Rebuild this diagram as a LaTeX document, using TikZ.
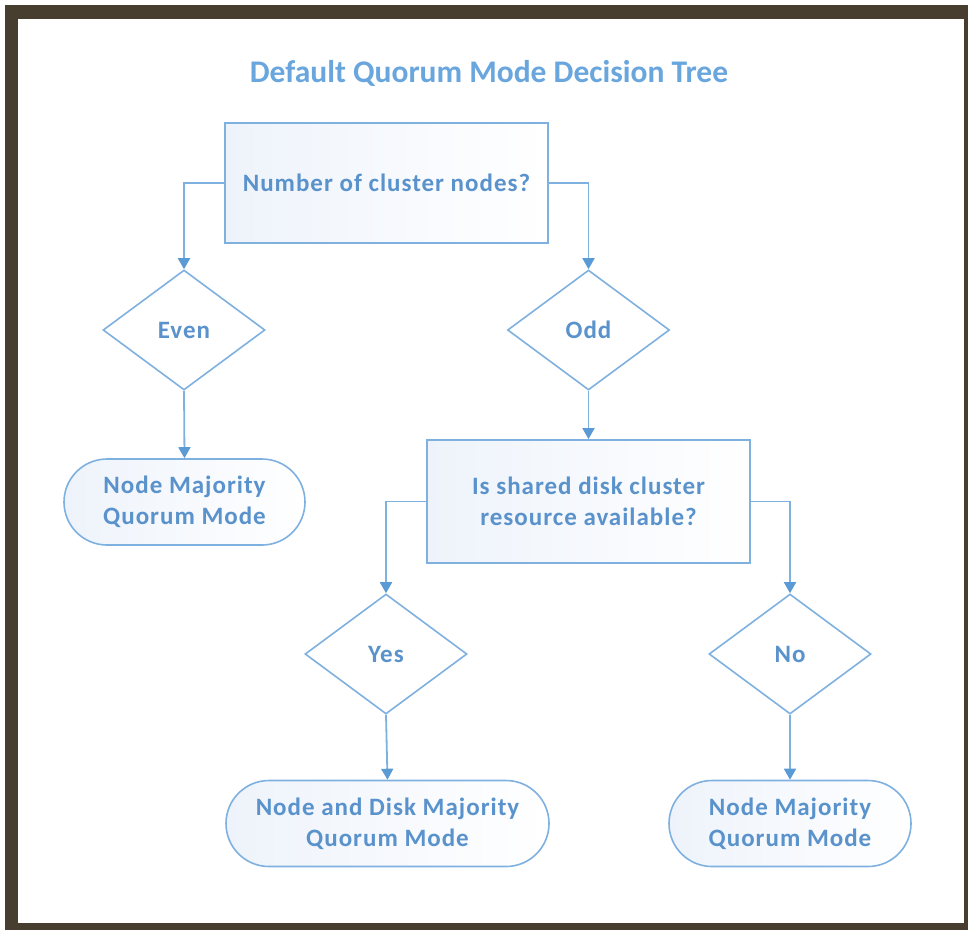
\documentclass[tikz,border=0pt]{standalone}
\usepackage{fontspec}
\setmainfont{Carlito}
\usetikzlibrary{shapes.geometric,shapes.misc,arrows.meta}
\definecolor{framecol}{HTML}{483E30}
\definecolor{linecol}{HTML}{7FB1E0}
\definecolor{tipcol}{HTML}{5B9BD5}
\definecolor{textcol}{HTML}{5A92CC}
\definecolor{titlecol}{HTML}{6AA6DE}
\definecolor{fillcol}{HTML}{EEF3FB}
\tikzset{
  every node/.style={font=\bfseries\fontsize{25}{31}\selectfont, text=textcol, align=center},
  boxnode/.style={draw=linecol, line width=1.8pt, rectangle, left color=fillcol, right color=white, inner sep=0pt},
  decnode/.style={draw=linecol, line width=1.6pt, diamond, fill=white, inner sep=0pt, minimum width=162pt, minimum height=120pt},
  termnode/.style={draw=linecol, line width=1.6pt, rounded rectangle, left color=fillcol, right color=white, inner sep=0pt, minimum height=86pt},
  conn/.style={draw=linecol, line width=1.8pt, -{Triangle[width=12pt,length=11pt,fill=tipcol,color=tipcol]}},
}
\begin{document}
\begin{tikzpicture}[x=1pt,y=-1pt]
\useasboundingbox (0,0) rectangle (968,930);
\fill[framecol] (5,5) rectangle (968,930);
\fill[white] (18,18.5) rectangle (964,923);
\node[font=\bfseries\fontsize{31.5}{36}\selectfont, text=titlecol] (title) at (489,73) {Default Quorum Mode Decision Tree};
\node[boxnode, minimum width=323pt, minimum height=120pt] (top) at (386.5,183) {\addfontfeature{LetterSpace=4}Number of cluster nodes?};
\node[decnode] (even) at (184,330) {\addfontfeature{LetterSpace=4}Even};
\node[decnode] (odd) at (588.5,330) {\addfontfeature{LetterSpace=4}Odd};
\node[termnode, minimum width=241pt] (nm1) at (184.5,502) {\addfontfeature{LetterSpace=4}Node Majority\\\addfontfeature{LetterSpace=4}Quorum Mode};
\node[boxnode, minimum width=323pt, minimum height=123pt] (disk) at (588.5,501.5) {\addfontfeature{LetterSpace=4}Is shared disk cluster\\\addfontfeature{LetterSpace=4}resource available?};
\node[decnode] (yes) at (386,654) {\addfontfeature{LetterSpace=4}Yes};
\node[decnode] (no) at (790,654) {\addfontfeature{LetterSpace=4}No};
\node[termnode, minimum width=323pt] (ndm) at (387.5,823.5) {\addfontfeature{LetterSpace=4}Node and Disk Majority\\\addfontfeature{LetterSpace=4}Quorum Mode};
\node[termnode, minimum width=242pt] (nm2) at (790,823.5) {\addfontfeature{LetterSpace=4}Node Majority\\\addfontfeature{LetterSpace=4}Quorum Mode};
\draw[conn] (top.west) -| (even.north);
\draw[conn] (top.east) -| (odd.north);
\draw[conn] (even.south) -- (nm1.north);
\draw[conn] (odd.south) -- (disk.north);
\draw[conn] (disk.west) -| (yes.north);
\draw[conn] (disk.east) -| (no.north);
\draw[conn] (yes.south) -- (ndm.north);
\draw[conn] (no.south) -- (nm2.north);
\end{tikzpicture}
\end{document}
